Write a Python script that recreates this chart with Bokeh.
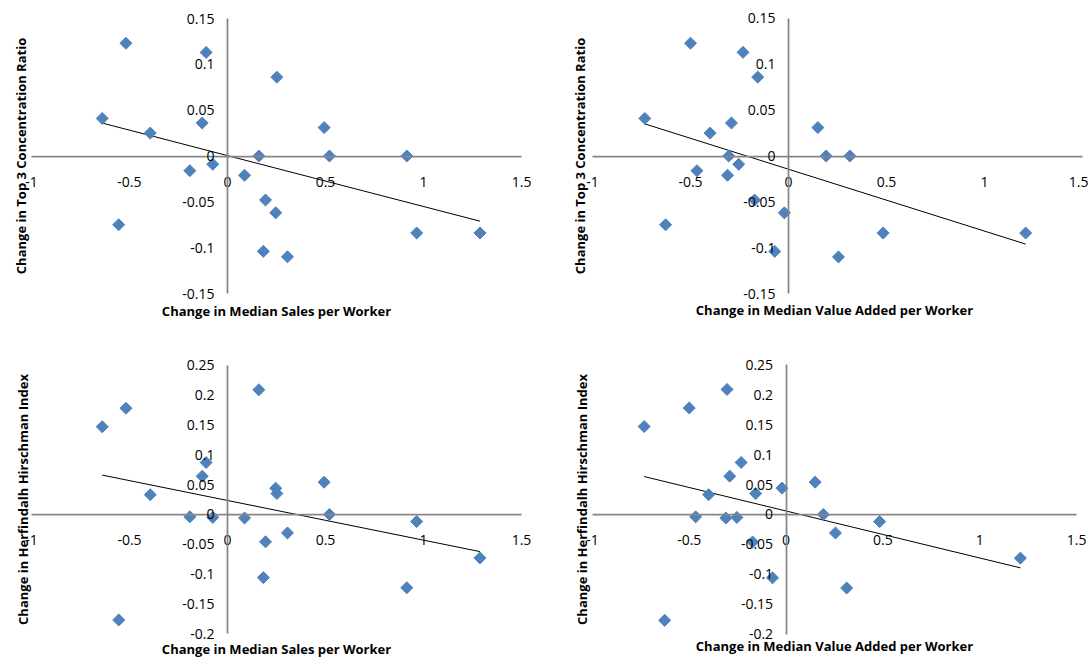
import numpy as np
from bokeh.plotting import figure
from bokeh.models import LinearAxis, FixedTicker, CustomJSTickFormatter, Range1d
from bokeh.layouts import gridplot
from bokeh.embed import file_html
from bokeh.resources import INLINE

# ---- data: one entry per industry ----
sales_change = [0.160, -0.518, -0.639, -0.109, -0.129, 0.493, 0.246, 0.252, -0.394, -0.192,
                -0.075, 0.087, 0.520, 0.965, 0.306, 0.194, 1.288, 0.183, 0.915, -0.555]
va_change = [-0.305, -0.500, -0.733, -0.232, -0.291, 0.150, -0.021, -0.157, -0.400, -0.467,
             -0.254, -0.311, 0.192, 0.483, 0.255, -0.173, 1.210, -0.070, 0.313, -0.627]
top3_change = [0.000, 0.123, 0.041, 0.113, 0.036, 0.031, -0.062, 0.086, 0.025, -0.016,
               -0.009, -0.021, 0.000, -0.084, -0.110, -0.048, -0.084, -0.104, 0.000, -0.075]
hhi_change = [0.209, 0.178, 0.147, 0.087, 0.064, 0.054, 0.044, 0.035, 0.033, -0.004,
              -0.005, -0.006, 0.000, -0.012, -0.031, -0.046, -0.073, -0.106, -0.123, -0.177]

x_ticks = [-1, -0.5, 0, 0.5, 1, 1.5]
top3_ticks = [-0.15, -0.1, -0.05, 0, 0.05, 0.1, 0.15]
hhi_ticks = [-0.2, -0.15, -0.1, -0.05, 0, 0.05, 0.1, 0.15, 0.2, 0.25]

sales_label = "Change in Median Sales per Worker"
va_label = "Change in Median Value Added per Worker"
top3_label = "Change in Top 3 Concentration Ratio"
hhi_label = "Change in Herfindalh Hirschman Index"

FONT = "Open Sans"
AXIS_GRAY = "#868686"
BLUE = "#4F81BD"
W, H = 544, 330

fmt_code = "return String(Math.round(tick * 1000) / 1000);"


def title_axis(ax, label, standoff):
    ax.ticker = FixedTicker(ticks=[])
    ax.axis_line_color = None
    ax.major_tick_line_color = None
    ax.minor_tick_line_color = None
    ax.major_tick_out = 0
    ax.major_tick_in = 0
    ax.minor_tick_out = 0
    ax.minor_tick_in = 0
    ax.major_label_standoff = 0
    ax.axis_label = label
    ax.axis_label_standoff = standoff
    ax.axis_label_text_font = FONT
    ax.axis_label_text_font_style = "bold"
    ax.axis_label_text_font_size = "13px"
    ax.axis_label_text_color = "#000000"


def tick_axis(ax, ticks, bounds, standoff):
    ax.ticker = FixedTicker(ticks=ticks)
    ax.bounds = bounds
    ax.formatter = CustomJSTickFormatter(code=fmt_code)
    ax.axis_line_color = AXIS_GRAY
    ax.axis_line_width = 1.75
    ax.major_tick_line_color = None
    ax.minor_tick_line_color = None
    ax.major_tick_out = 0
    ax.major_tick_in = 0
    ax.minor_tick_out = 0
    ax.minor_tick_in = 0
    ax.major_label_standoff = standoff
    ax.major_label_text_font = FONT
    ax.major_label_text_font_size = "14px"
    ax.major_label_text_color = "#000000"


def make_panel(x, y, xlabel, ylabel, xr, yr, yticks, frame, pads, xstand, ystand):
    # frame = (left, right, top, bottom) pixel edges of the data box inside the figure
    fl, fr, ft, fb = frame
    pl, pr, pt, pb = pads
    fw, fh = fr - fl, fb - ft
    dx = (xr[1] - xr[0]) / fw
    dy = (yr[1] - yr[0]) / fh
    x_range = Range1d(xr[0] - pl * dx, xr[1] + pr * dx)
    y_range = Range1d(yr[0] - pb * dy, yr[1] + pt * dy)
    p = figure(width=W, height=H, x_range=x_range, y_range=y_range,
               output_backend="svg", toolbar_location=None,
               min_border_left=fl - pl, min_border_right=W - fr - pr,
               min_border_top=ft - pt, min_border_bottom=H - fb - pb)
    p.grid.visible = False
    p.outline_line_color = None
    p.background_fill_color = "white"
    p.border_fill_color = "white"

    title_axis(p.xaxis[0], xlabel, xstand - pb)
    title_axis(p.yaxis[0], ylabel, ystand - pl)

    xa = LinearAxis(fixed_location=0)
    tick_axis(xa, x_ticks, xr, 21)
    p.add_layout(xa, "below")
    ya = LinearAxis(fixed_location=0)
    tick_axis(ya, yticks, yr, 13)
    p.add_layout(ya, "left")

    xs = np.array(x)
    ys = np.array(y)
    k, b = np.polyfit(xs, ys, 1)
    tx = [float(xs.min()), float(xs.max())]
    p.line(tx, [k * v + b for v in tx], line_color="black", line_width=1)

    p.scatter(x, y, marker="square", angle=np.pi / 4, size=8.5,
              fill_color=BLUE, line_color=BLUE)
    return p


XR = (-1, 1.5)
p1 = make_panel(sales_change, top3_change, sales_label, top3_label, XR,
                (-0.15, 0.15), top3_ticks, (28, 521, 18, 293), (12, 12, 12, 12), 8, 2)
p2 = make_panel(va_change, top3_change, va_label, top3_label, XR,
                (-0.15, 0.15), top3_ticks, (48, 538, 18, 295), (12, 6, 12, 12), 7, 4)
p3 = make_panel(sales_change, hhi_change, sales_label, hhi_label, XR,
                (-0.2, 0.25), hhi_ticks, (31, 521, 35, 307), (12, 12, 12, 12), 6, 0)
p4 = make_panel(va_change, hhi_change, va_label, hhi_label, XR,
                (-0.2, 0.25), hhi_ticks, (45, 532, 27, 310), (12, 12, 12, 12), 3, 2)

layout = gridplot([[p1, p2], [p3, p4]], toolbar_location=None)

open("out.html", "w").write(file_html(layout, INLINE))
